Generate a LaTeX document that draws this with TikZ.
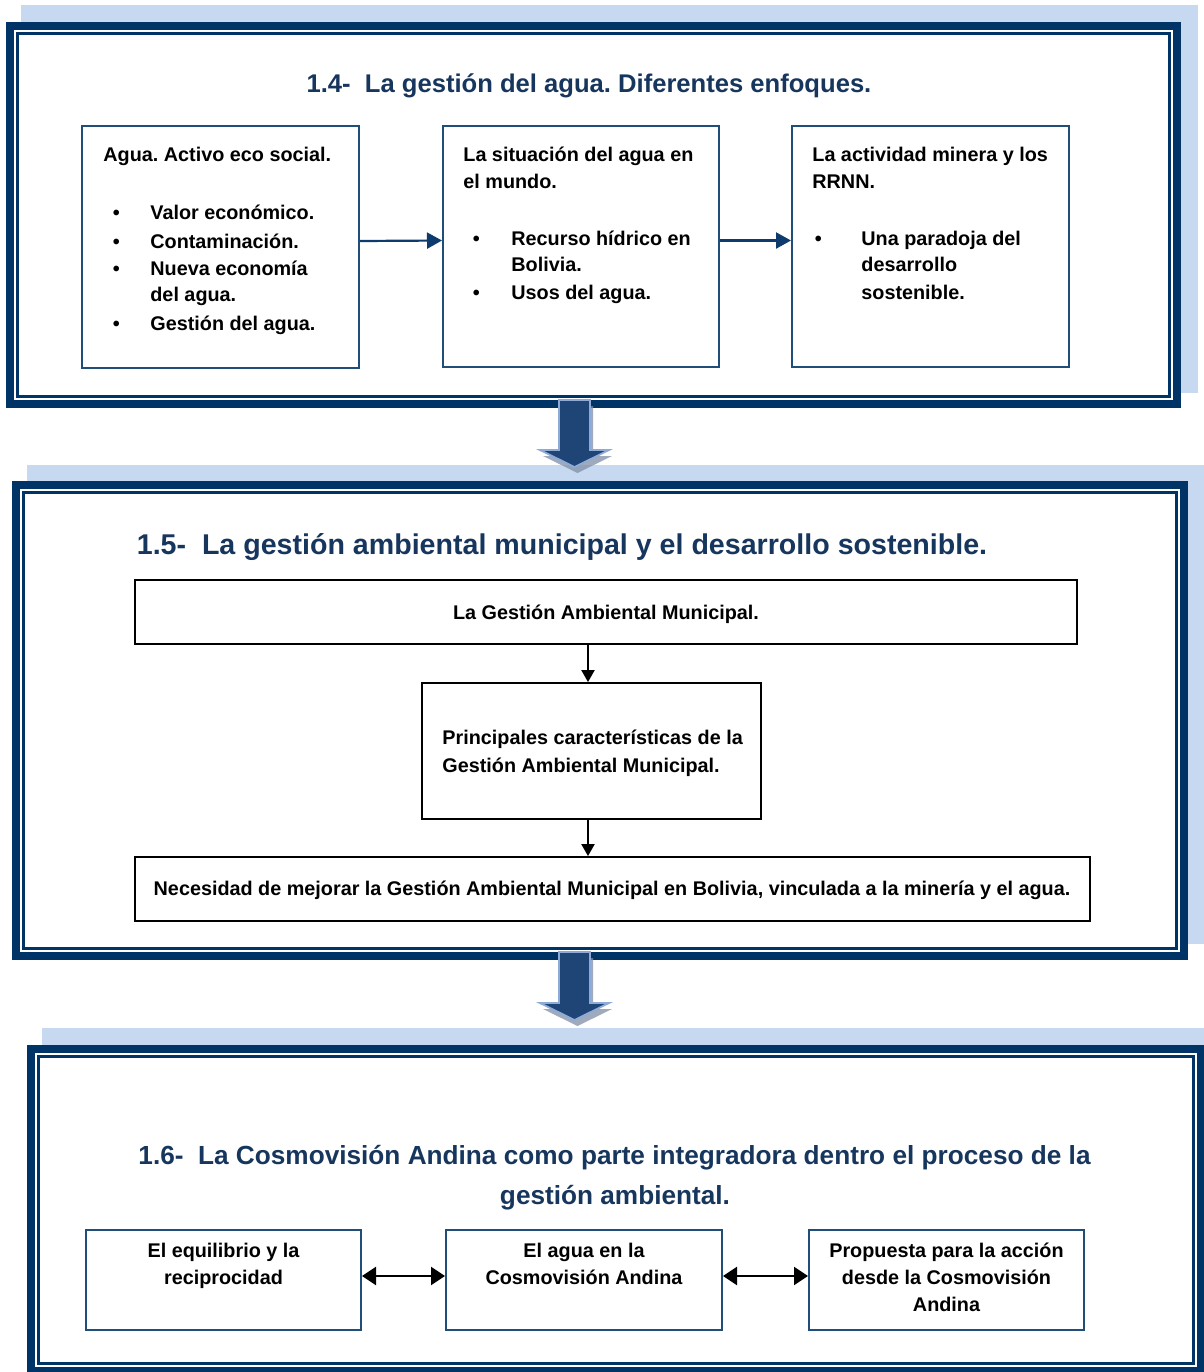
\documentclass[tikz,border=0pt]{standalone}
\usepackage{fontspec}
\setmainfont{Liberation Sans}
\usetikzlibrary{arrows.meta,fit}

\definecolor{shadowblue}{HTML}{C6D9F1}
\definecolor{framenavy}{HTML}{003366}
\definecolor{titlenavy}{HTML}{17365D}
\definecolor{boxblue}{HTML}{1F4E79}
\definecolor{arrownavy}{HTML}{0E3B6E}
\definecolor{blockfill}{HTML}{1F4577}
\definecolor{blockedge}{HTML}{8EAAD6}
\definecolor{blockshade}{HTML}{7F8FA6}

\tikzset{
  panelshadow/.style={fill=shadowblue},
  panelband/.style={draw=framenavy, line width=4pt},
  panelline/.style={draw=framenavy, line width=1.25pt},
  bluebox/.style={draw=boxblue, line width=1pt, fill=white, inner sep=0pt},
  blackbox/.style={draw=black, line width=0.9pt, fill=white, inner sep=0pt},
  heading/.style={text=titlenavy, font=\fontsize{12.8}{20}\selectfont\bfseries, inner sep=0pt, anchor=base},
  txt/.style={font=\fontsize{9.9}{13.5}\selectfont\bfseries, inner sep=0pt, anchor=base west},
  ctxt/.style={font=\fontsize{9.9}{13.5}\selectfont\bfseries, inner sep=0pt, anchor=base},
  bluearrow/.style={draw=arrownavy, line width=1.1pt, -{Triangle[length=7.5pt,width=8pt]}},
  blackarrow/.style={draw=black, line width=1pt, -{Triangle[length=6pt,width=6.5pt]}},
  twoway/.style={draw=black, line width=1.1pt, {Triangle[length=7pt,width=9pt]}-{Triangle[length=7pt,width=9pt]}},
  blockarrow/.style={fill=blockfill, draw=blockedge, line width=0.9pt, line join=miter},
  blockshadow/.style={fill=blockshade, opacity=0.75},
}

\begin{document}
\frenchspacing
\begin{tikzpicture}[x=0.5pt, y=-0.5pt]
\useasboundingbox (0,0) rectangle (1204,1372);

% ---------- panel frames ----------
% panel 1.4
\fill[panelshadow] (21,5) rectangle (1198,393);
\fill[white] (6,22) rectangle (1181,408);
\draw[panelband] (10,26) rectangle (1177,404);
\draw[panelline] (17.5,33.5) rectangle (1169.5,396.5);
% panel 1.5
\fill[panelshadow] (27,465) rectangle (1204,944);
\fill[white] (12,481) rectangle (1188,960);
\draw[panelband] (16,485) rectangle (1184,956);
\draw[panelline] (23.5,492.5) rectangle (1176.5,948.5);
% panel 1.6
\fill[panelshadow] (42,1028) rectangle (1222,1360);
\fill[white] (27,1045) rectangle (1205,1375);
\draw[panelband] (31,1049) rectangle (1201,1371);
\draw[panelline] (38.5,1056.5) rectangle (1193.5,1363.5);

% ---------- 1.4 ----------
\node[heading] (t1) at (589,92) {1.4-\ \ La gestión del agua. Diferentes enfoques.};

\node[bluebox, fit={(82,126)(359,368)}] (boxA) {};
\node[bluebox, fit={(443,126)(719,367)}] (boxB) {};
\node[bluebox, fit={(792,126)(1069,367)}] (boxC) {};

\node[txt] (a0) at (103,161) {Agua. Activo eco social.};
\node[txt] (ab1) at (112.5,219) {\textbullet};
\node[txt] (ab2) at (112.5,248) {\textbullet};
\node[txt] (ab3) at (112.5,275) {\textbullet};
\node[txt] (ab4) at (112.5,330) {\textbullet};
\node[txt] (a1) at (150,219) {Valor económico.};
\node[txt] (a2) at (150,248) {Contaminación.};
\node[txt] (a3) at (150,275) {Nueva economía};
\node[txt] (a3b) at (150,301) {del agua.};
\node[txt] (a4) at (150,330) {Gestión del agua.};

\node[txt] (b0) at (463,161) {La situación del agua en};
\node[txt] (b0b) at (463,188) {el mundo.};
\node[txt] (bb1) at (472.5,245) {\textbullet};
\node[txt] (bb2) at (472.5,299) {\textbullet};
\node[txt] (b1) at (511,245) {Recurso hídrico en};
\node[txt] (b1b) at (511,271) {Bolivia.};
\node[txt] (b2) at (511,299) {Usos del agua.};

\node[txt] (c0) at (812,161) {La actividad minera y los};
\node[txt] (c0b) at (812,188) {RRNN.};
\node[txt] (cb1) at (814.5,245) {\textbullet};
\node[txt] (c1) at (861,245) {Una paradoja del};
\node[txt] (c1b) at (861,271) {desarrollo};
\node[txt] (c1c) at (861,299) {sostenible.};

\draw[bluearrow] ([yshift=3pt]boxA.east) -- ([yshift=3pt]boxB.west);
\draw[bluearrow] ([yshift=3pt]boxB.east) -- ([yshift=3pt]boxC.west);

% ---------- 1.5 ----------
\node[heading, font=\fontsize{14.3}{20}\selectfont\bfseries] (t2) at (562,554) {1.5-\ \ La gestión ambiental municipal y el desarrollo sostenible.};

\node[blackbox, fit={(135,580)(1077,644)}] (boxD) {};
\node[blackbox, fit={(422,683)(761,819)}] (boxE) {};
\node[blackbox, fit={(135,857)(1090,921)}] (boxF) {};

\node[ctxt] (d0) at (606,619) {La Gestión Ambiental Municipal.};
\node[txt] (e0) at (442,744) {Principales características de la};
\node[txt] (e1) at (442,772) {Gestión Ambiental Municipal.};
\node[ctxt] (f0) at (612,895) {Necesidad de mejorar la Gestión Ambiental Municipal en Bolivia, vinculada a la minería y el agua.};

\draw[blackarrow] ([xshift=-1.75pt]boxE.north |- boxD.south) -- ([xshift=-1.75pt]boxE.north);
\draw[blackarrow] ([xshift=-1.75pt]boxE.south) -- ([xshift=-1.75pt]boxE.south |- boxF.north);

% ---------- 1.6 ----------
\node[heading, font=\fontsize{13.1}{20}\selectfont\bfseries] (t3) at (614.5,1164) {1.6-\ \ La Cosmovisión Andina como parte integradora dentro el proceso de la};
\node[heading, font=\fontsize{13.1}{20}\selectfont\bfseries] (t3b) at (615,1204) {gestión ambiental.};

\node[bluebox, fit={(86,1230)(361,1330)}] (boxG) {};
\node[bluebox, fit={(446,1230)(722,1330)}] (boxH) {};
\node[bluebox, fit={(809,1230)(1084,1330)}] (boxI) {};

\node[ctxt] (g0) at (223.5,1257) {El equilibrio y la};
\node[ctxt] (g1) at (223.5,1284) {reciprocidad};
\node[ctxt] (h0) at (584,1257) {El agua en la};
\node[ctxt] (h1) at (584,1284) {Cosmovisión Andina};
\node[ctxt] (i0) at (946.5,1257) {Propuesta para la acción};
\node[ctxt] (i1) at (946.5,1284) {desde la Cosmovisión};
\node[ctxt] (i2) at (946.5,1311) {Andina};

\draw[twoway] ([yshift=2pt]boxG.east) -- ([yshift=2pt]boxH.west);
\draw[twoway] ([yshift=2pt]boxH.east) -- ([yshift=2pt]boxI.west);

% ---------- block arrows between panels ----------
\fill[blockshadow] (562,406) -- (593,406) -- (593,456) -- (612,456) -- (577.5,473) -- (543,456) -- (562,456) -- cycle;
\path[blockarrow] (559,400) -- (590,400) -- (590,450) -- (609,450) -- (574.5,467) -- (540,450) -- (559,450) -- cycle;
\fill[blockshadow] (562,958) -- (593,958) -- (593,1009) -- (612,1009) -- (577.5,1026) -- (543,1009) -- (562,1009) -- cycle;
\path[blockarrow] (559,952) -- (590,952) -- (590,1003) -- (609,1003) -- (574.5,1020) -- (540,1003) -- (559,1003) -- cycle;
\end{tikzpicture}
\end{document}
